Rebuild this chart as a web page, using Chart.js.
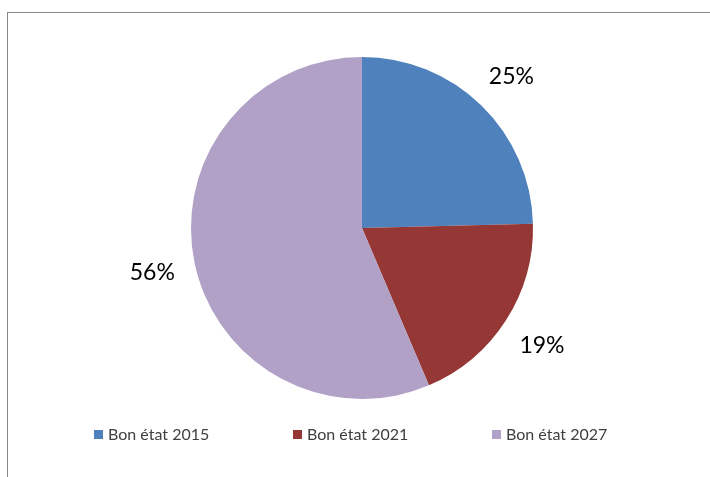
<!DOCTYPE html>
<html>
<head>
<meta charset="utf-8">
<script src="https://cdn.jsdelivr.net/npm/chart.js@4"></script>
<style>
  html, body { margin: 0; padding: 0; background: #fff; }
  #wrap { position: relative; width: 710px; height: 477px; overflow: hidden; }
  #frame { position: absolute; left: 7px; top: 12px; right: -5px; bottom: -5px;
           border-top: 1px solid #888; border-left: 1px solid #888; }
  #box { position: absolute; left: 0; top: 0; width: 710px; height: 477px; }
</style>
</head>
<body>
<div id="wrap">
  <div id="frame"></div>
  <div id="box"><canvas id="pieChart"></canvas></div>
</div>
<script>
// data
var labels = ["Bon état 2015", "Bon état 2021", "Bon état 2027"];
var shares = [24.6, 19.0, 56.4];
var shownPct = ["25%", "19%", "56%"];
var colours = ["#4F81BD", "#953735", "#B2A1C7"];

// percentages placed outside each slice, like the office chart
var outsideLabels = {
    id: 'outsideLabels',
    afterDatasetsDraw: function(chart) {
        var ctx = chart.ctx;
        var arcs = chart.getDatasetMeta(0).data;
        ctx.save();
        ctx.font = '23px Lato';
        ctx.fillStyle = '#000';
        ctx.textAlign = 'center';
        ctx.textBaseline = 'middle';
        arcs.forEach(function(arc, i) {
            var mid = (arc.startAngle + arc.endAngle) / 2;
            var r = arc.outerRadius + 43;
            ctx.fillText(shownPct[i], arc.x + Math.cos(mid) * r, arc.y + Math.sin(mid) * r + 2);
        });
        ctx.restore();
    }
};

// legend row under the pie
var bottomLegend = {
    id: 'bottomLegend',
    afterDraw: function(chart) {
        var ctx = chart.ctx;
        ctx.save();
        ctx.font = '16px Lato';
        ctx.textBaseline = 'middle';
        labels.forEach(function(lab, i) {
            var x = 94 + i * 199;
            ctx.fillStyle = colours[i];
            ctx.fillRect(x, 430, 9, 9);
            ctx.fillStyle = '#404040';
            ctx.fillText(lab, x + 14, 435);
        });
        ctx.restore();
    }
};

var pieContext = document.getElementById('pieChart').getContext('2d');
var pieChart = new Chart(pieContext, {
    type: 'pie',
    data: {
        labels: labels,
        datasets: [{
            data: shares,
            backgroundColor: colours,
            borderWidth: 0
        }]
    },
    options: {
        responsive: true,
        maintainAspectRatio: false,
        animation: false,
        layout: {
            padding: { top: 57, bottom: 78, left: 14, right: 0 }
        },
        plugins: {
            legend: { display: false },
            tooltip: { enabled: false }
        }
    },
    plugins: [outsideLabels, bottomLegend]
});
</script>
</body>
</html>
